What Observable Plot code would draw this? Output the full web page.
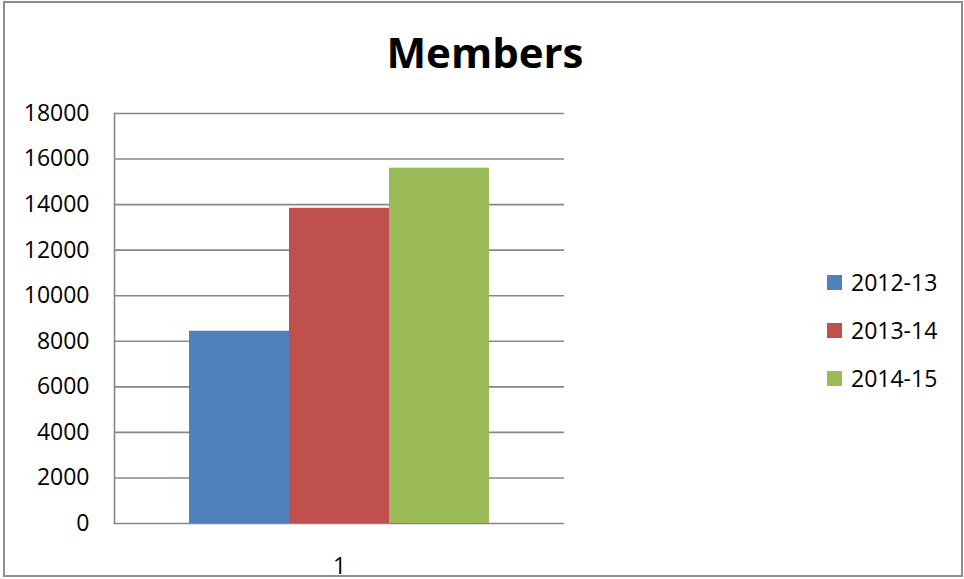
<!DOCTYPE html>
<html>
<head>
<meta charset="utf-8">
<script src="https://cdn.jsdelivr.net/npm/d3@7"></script>
<script src="https://cdn.jsdelivr.net/npm/@observablehq/plot@0.6"></script>
<style>
  html, body { margin: 0; padding: 0; background: #fff; }
  #wrap { position: relative; width: 964px; height: 579px; overflow: hidden; font-family: "Open Sans", sans-serif; }
  #frame { position: absolute; left: 3px; top: 1px; width: 960px; height: 576px; box-sizing: border-box; border: 2px solid #8e8e8e; pointer-events: none; }
  #title { height: 90px; box-sizing: border-box; padding-top: 23px; padding-left: 6px; text-align: center; font-size: 42px; font-weight: 700; line-height: normal; color: #000; }
  #legend { position: absolute; left: 827px; top: 258px; }
  .row { display: flex; align-items: center; height: 48px; font-size: 23px; color: #000; }
  .sw { width: 15px; height: 15px; margin-right: 9px; }
</style>
</head>
<body>
<div id="wrap">
  <div id="title">Members</div>
  <div id="chart"></div>
  <div id="legend"></div>
  <div id="frame"></div>
</div>
<script>
const series = ["2012-13", "2013-14", "2014-15"];
const values = [8440, 13840, 15600];
const colors = ["#4F81BD", "#C0504D", "#9BBB59"];
const category = ["1"];
const yTicks = [0, 2000, 4000, 6000, 8000, 10000, 12000, 14000, 16000, 18000];

const data = series.map((s, i) => ({series: s, value: values[i]}));

const chart = Plot.plot({
  width: 964,
  height: 489,
  marginLeft: 114,
  marginRight: 400,
  marginTop: 23,
  marginBottom: 56,
  style: {fontFamily: "Open Sans, sans-serif", fontSize: "23px", color: "#000", background: "transparent"},
  x: {domain: series, paddingInner: 0, paddingOuter: 0.75, axis: null},
  y: {domain: [0, 18000], axis: null},
  color: {domain: series, range: colors},
  marks: [
    Plot.ruleY(yTicks, {stroke: "#878787", strokeWidth: 1.6}),
    Plot.barY(data, {x: "series", y: "value", fill: "series", inset: 0}),
    Plot.frame({anchor: "left", stroke: "#878787", strokeWidth: 1.6}),
    Plot.axisY({ticks: yTicks, tickSize: 0, tickPadding: 25, fontSize: 23, label: null, tickFormat: d => String(d)}),
    Plot.text(category, {text: d => d, frameAnchor: "bottom", dy: 50, fontSize: 23, fill: "#000"})
  ]
});
document.getElementById("chart").appendChild(chart);

const legend = document.getElementById("legend");
series.forEach((s, i) => {
  const row = document.createElement("div");
  row.className = "row";
  const sw = document.createElement("div");
  sw.className = "sw";
  sw.style.background = colors[i];
  const t = document.createElement("span");
  t.textContent = s;
  row.appendChild(sw);
  row.appendChild(t);
  legend.appendChild(row);
});
</script>
</body>
</html>
